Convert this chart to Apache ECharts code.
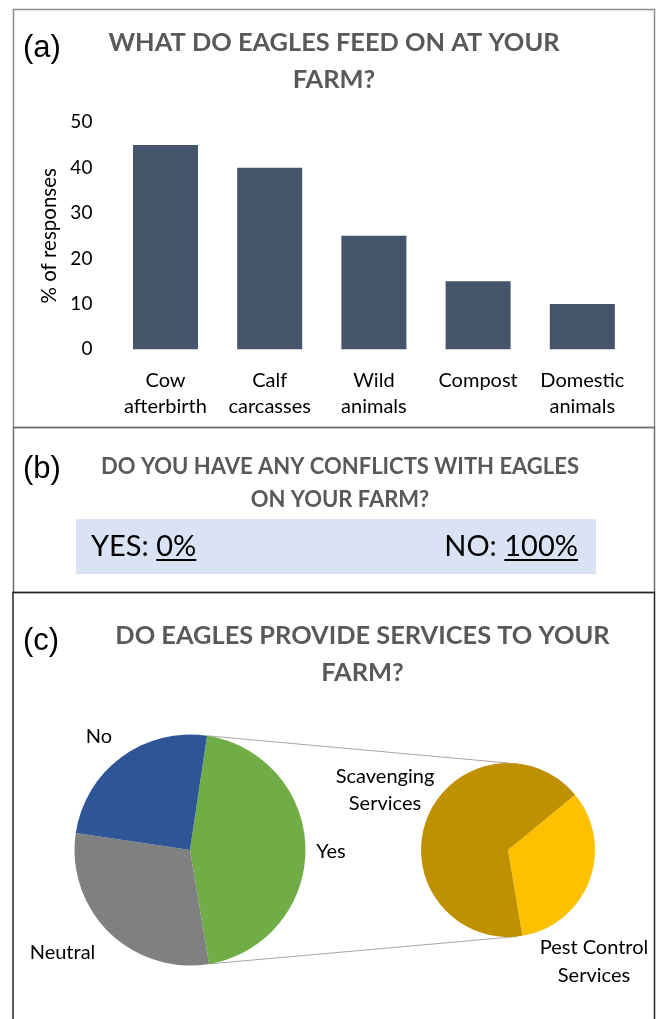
<!DOCTYPE html>
<html><head><meta charset="utf-8">
<script src="https://cdn.jsdelivr.net/npm/echarts@6/dist/echarts.min.js"></script>
<style>html,body{margin:0;padding:0;background:#fff}#c{width:656px;height:1019px}</style>
</head><body><div id="c"></div>
<script>
// ---- data ----
const foodCategories = ['Cow\nafterbirth', 'Calf\ncarcasses', 'Wild\nanimals', 'Compost', 'Domestic\nanimals'];
const foodValues = [45, 40, 25, 15, 10];
const yTickMin = 0, yTickMax = 50, yTickStep = 10;
const conflictLabels = ['YES', 'NO'];
const conflictValues = [0, 100];
const serviceCategories = ['Yes', 'Neutral', 'No'];
const serviceValues = [45, 30, 25];
const yesBreakdownCategories = ['Pest Control\nServices', 'Scavenging\nServices'];
const yesBreakdownValues = [15, 30];
const titles = {
  a: 'WHAT DO EAGLES FEED ON AT YOUR\nFARM?',
  b: 'DO YOU HAVE ANY CONFLICTS WITH EAGLES\nON YOUR FARM?',
  c: 'DO EAGLES PROVIDE SERVICES TO YOUR\nFARM?'
};

// ---- styles ----
const CAL = 'Lato, "Open Sans", sans-serif';
const HEL = '"Liberation Sans", Arial, sans-serif';
const mctx = document.createElement('canvas').getContext('2d');
function tw(text, font) { mctx.font = font; return mctx.measureText(text).width; }

const mainPie = { cx: 190, cy: 850, r: 115.5, start: 81.5 };
const subPie = { cx: 508, cy: 850, r: 87, start: 39.5 };

// connector endpoints derived from the Yes slice geometry
const total = serviceValues.reduce((a, b) => a + b, 0);
const yesSpan = 360 * serviceValues[0] / total;
function pt(p, deg) { const a = deg * Math.PI / 180; return [p.cx + p.r * Math.cos(a), p.cy - p.r * Math.sin(a)]; }
const yesTop = pt(mainPie, mainPie.start);
const yesBot = pt(mainPie, mainPie.start - yesSpan);
const subTop = pt(subPie, 90);
const subBot = pt(subPie, -84);

const bFont = '29px Lato';
const yesPre = conflictLabels[0] + ': ', yesVal = conflictValues[0] + '%';
const noPre = conflictLabels[1] + ': ', noVal = conflictValues[1] + '%';
const yesX = 91, noRight = 578, bY = 547;
const yesValX = yesX + tw(yesPre, bFont);
const yesValW = tw(yesVal, bFont);
const noValW = tw(noVal, bFont);
const noValX = noRight - noValW;
const lblFont = '20px ' + CAL;

const graphics = [
  // panel borders
  { type: 'rect', shape: { x: 13.5, y: 9.5, width: 641, height: 418 }, style: { fill: 'none', stroke: '#8c8c8c', lineWidth: 1.5 }, z: 1 },
  { type: 'rect', shape: { x: 13.5, y: 427.5, width: 641, height: 165 }, style: { fill: 'none', stroke: '#6e6e6e', lineWidth: 1.5 }, z: 1 },
  { type: 'rect', shape: { x: 13, y: 592.5, width: 641.5, height: 440 }, style: { fill: 'none', stroke: '#262626', lineWidth: 1.5 }, z: 2 },
  // panel letters
  { type: 'text', x: 23, y: 48, style: { text: '(a)', font: '31px ' + HEL, fill: '#000', textVerticalAlign: 'middle' } },
  { type: 'text', x: 23, y: 469, style: { text: '(b)', font: '31px ' + HEL, fill: '#000', textVerticalAlign: 'middle' } },
  { type: 'text', x: 23, y: 641, style: { text: '(c)', font: '31px ' + HEL, fill: '#000', textVerticalAlign: 'middle' } },
  // titles
  { type: 'text', x: 334, y: 61.5, style: { text: titles.a, font: 'bold 25.4px ' + CAL, fill: '#595959', textAlign: 'center', textVerticalAlign: 'middle', lineHeight: 37 } },
  { type: 'text', x: 340, y: 483.5, style: { text: titles.b, font: 'bold 22px ' + CAL, fill: '#595959', textAlign: 'center', textVerticalAlign: 'middle', lineHeight: 33 } },
  { type: 'text', x: 362.5, y: 654.5, style: { text: titles.c, font: 'bold 25.4px ' + CAL, fill: '#595959', textAlign: 'center', textVerticalAlign: 'middle', lineHeight: 37 } },
  // panel b box and texts
  { type: 'rect', shape: { x: 76, y: 519, width: 520, height: 55 }, style: { fill: '#dae3f3' }, z: 0 },
  { type: 'text', x: yesX, y: bY, style: { text: yesPre, font: bFont, fill: '#000', textVerticalAlign: 'middle' } },
  { type: 'text', x: yesValX, y: bY, style: { text: yesVal, font: bFont, fill: '#000', textVerticalAlign: 'middle' } },
  { type: 'line', shape: { x1: yesValX, y1: 560, x2: yesValX + yesValW, y2: 560 }, style: { stroke: '#000', lineWidth: 2 } },
  { type: 'text', x: noValX, y: bY, style: { text: noPre, font: bFont, fill: '#000', textAlign: 'right', textVerticalAlign: 'middle' } },
  { type: 'text', x: noValX, y: bY, style: { text: noVal, font: bFont, fill: '#000', textVerticalAlign: 'middle' } },
  { type: 'line', shape: { x1: noValX, y1: 560, x2: noRight, y2: 560 }, style: { stroke: '#000', lineWidth: 2 } },
  // connector lines
  { type: 'line', shape: { x1: yesTop[0], y1: yesTop[1], x2: subTop[0], y2: subTop[1] }, style: { stroke: '#a6a6a6', lineWidth: 1 } },
  { type: 'line', shape: { x1: yesBot[0], y1: yesBot[1], x2: subBot[0], y2: subBot[1] }, style: { stroke: '#a6a6a6', lineWidth: 1 } },
  // pie labels
  { type: 'text', x: 99, y: 737, style: { text: serviceCategories[2], font: lblFont, fill: '#000', textAlign: 'center', textVerticalAlign: 'middle' } },
  { type: 'text', x: 331, y: 852, style: { text: serviceCategories[0], font: lblFont, fill: '#000', textAlign: 'center', textVerticalAlign: 'middle' } },
  { type: 'text', x: 62.5, y: 953, style: { text: serviceCategories[1], font: lblFont, fill: '#000', textAlign: 'center', textVerticalAlign: 'middle' } },
  { type: 'text', x: 385, y: 790.5, style: { text: yesBreakdownCategories[1], font: lblFont, fill: '#000', textAlign: 'center', textVerticalAlign: 'middle', lineHeight: 27 } },
  { type: 'text', x: 594, y: 962, style: { text: yesBreakdownCategories[0], font: lblFont, fill: '#000', textAlign: 'center', textVerticalAlign: 'middle', lineHeight: 28 } }
];

const chart = echarts.init(document.getElementById('c'), null, { renderer: 'canvas' });
chart.setOption({
  animation: false,
  backgroundColor: '#fff',
  grid: { left: 113.4, top: 122.3, width: 521, height: 227, containLabel: false, outerBoundsMode: 'none' },
  xAxis: {
    type: 'category', data: foodCategories,
    axisLine: { show: false }, axisTick: { show: false },
    axisLabel: { color: '#000', fontFamily: CAL, fontSize: 20, lineHeight: 26, margin: 18, interval: 0 }
  },
  yAxis: {
    type: 'value', min: yTickMin, max: yTickMax, interval: yTickStep,
    name: '% of responses', nameLocation: 'middle', nameGap: 53, nameRotate: 90,
    nameTextStyle: { color: '#000', fontFamily: CAL, fontSize: 20.5 },
    axisLine: { show: false }, axisTick: { show: false }, splitLine: { show: false },
    axisLabel: { color: '#000', fontFamily: CAL, fontSize: 19, margin: 21 }
  },
  series: [
    { type: 'bar', data: foodValues, barCategoryGap: '37.6%', itemStyle: { color: '#44546a' }, silent: true },
    {
      type: 'pie', center: [mainPie.cx, mainPie.cy], radius: mainPie.r, startAngle: mainPie.start, clockwise: true,
      label: { show: false }, labelLine: { show: false }, silent: true,
      data: serviceCategories.map((n, i) => ({ name: n, value: serviceValues[i], itemStyle: { color: ['#70ad47', '#808080', '#2f5597'][i] } }))
    },
    {
      type: 'pie', center: [subPie.cx, subPie.cy], radius: subPie.r, startAngle: subPie.start, clockwise: true,
      label: { show: false }, labelLine: { show: false }, silent: true,
      data: yesBreakdownCategories.map((n, i) => ({ name: n, value: yesBreakdownValues[i], itemStyle: { color: ['#ffc000', '#bf9000'][i] } }))
    }
  ],
  graphic: graphics
});
</script></body></html>
